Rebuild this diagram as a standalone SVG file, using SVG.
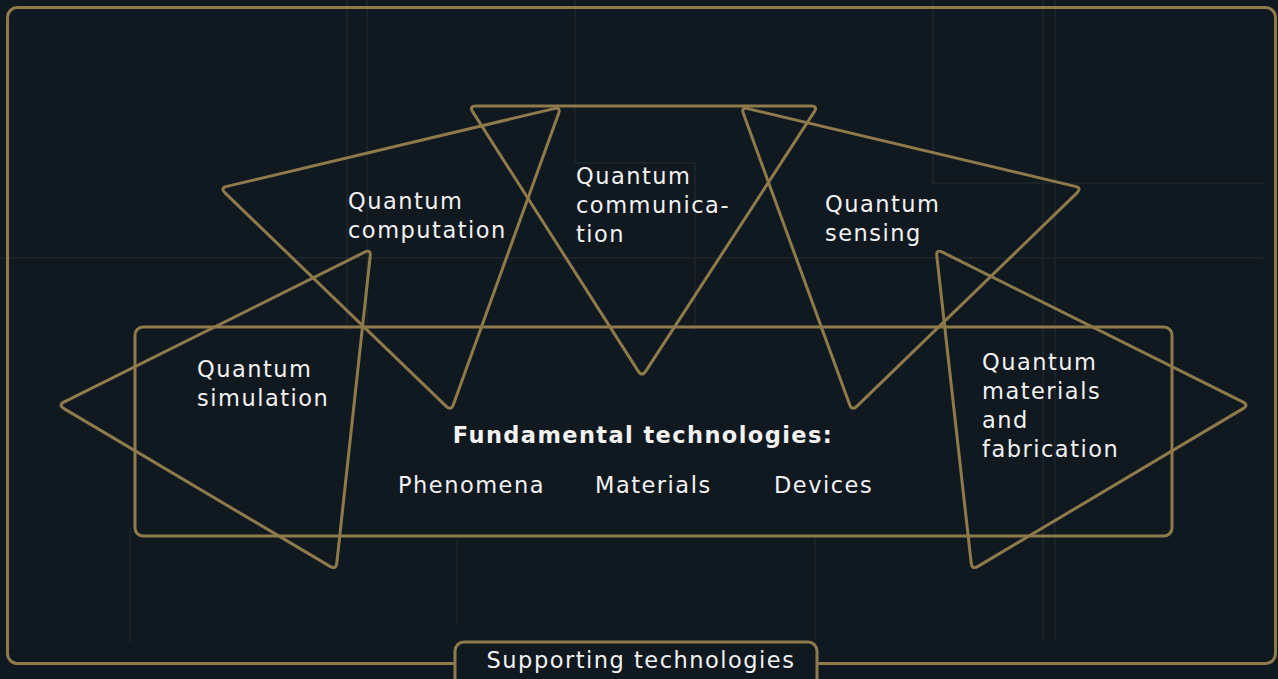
<svg xmlns="http://www.w3.org/2000/svg" width="1278" height="679" viewBox="0 0 1278 679">
<style>
.bg{fill:#111920}
.grid{stroke:#1b2328;stroke-width:2;fill:none}
.frame{fill:none;stroke:#8e7a4b;stroke-width:3;stroke-linejoin:round}
.t{font-family:"DejaVu Sans",sans-serif;font-size:22.5px;letter-spacing:1.5px;fill:#f2f2f2}
.b{font-weight:bold;letter-spacing:1.4px}
</style>
<rect class="bg" x="0" y="0" width="1278" height="679"/>
<g id="grid">
<path class="grid" d="M347,0V330 M367,0V330 M575,0V163H695V330 M0,258H1263 M933,0V183H1263 M1043,0V640 M1055,0V640 M130,527V642 M457,540V625 M815,537V640"/>
</g>
<g id="supporting-frame">
<rect class="frame" x="7.5" y="7.5" width="1268" height="656" rx="10"/>
</g>
<g id="fundamental">
<rect class="frame" x="135" y="327" width="1037" height="209" rx="8"/>
<text class="t b" x="643" y="443" text-anchor="middle">Fundamental technologies:</text>
<text class="t" x="398" y="493">Phenomena</text>
<text class="t" x="595" y="493">Materials</text>
<text class="t" x="774" y="493">Devices</text>
</g>
<g id="computation">
<path class="frame" d="M226.8,186.4 L554.2,108.6 Q561,107 558.6,113.6 L453.4,404.4 Q451,411 446,406.1 L225,192.9 Q220,188 226.8,186.4 Z"/>
<text class="t" x="348" y="209">Quantum</text>
<text class="t" x="348" y="238">computation</text>
</g>
<g id="communication">
<path class="frame" d="M476,106 L811,106 Q818,106 814.2,111.9 L645.8,371.1 Q642,377 638.2,371.1 L472.8,111.9 Q469,106 476,106 Z"/>
<text class="t" x="576" y="184">Quantum</text>
<text class="t" x="576" y="213">communica-</text>
<text class="t" x="576" y="242">tion</text>
</g>
<g id="sensing">
<path class="frame" d="M747.8,108.6 L1075.2,186.4 Q1082,188 1077,192.9 L857,406.1 Q852,411 849.6,404.4 L743.4,113.6 Q741,107 747.8,108.6 Z"/>
<text class="t" x="825" y="212">Quantum</text>
<text class="t" x="825" y="241">sensing</text>
</g>
<g id="simulation">
<path class="frame" d="M64.3,401.9 L364.7,252.1 Q371,249 370.2,256 L336.8,563 Q336,570 330,566.4 L64,408.6 Q58,405 64.3,401.9 Z"/>
<text class="t" x="197" y="377">Quantum</text>
<text class="t" x="197" y="406">simulation</text>
</g>
<g id="materials">
<path class="frame" d="M942.3,252.1 L1242.7,401.9 Q1249,405 1243,408.6 L978,566.4 Q972,570 971.2,563 L936.8,256 Q936,249 942.3,252.1 Z"/>
<text class="t" x="982" y="370">Quantum</text>
<text class="t" x="982" y="399">materials</text>
<text class="t" x="982" y="428">and</text>
<text class="t" x="982" y="457">fabrication</text>
</g>
<g id="supporting-label">
<rect class="frame" x="455" y="642" width="362" height="50" rx="9" style="fill:#111920"/>
<text class="t" x="641" y="668" text-anchor="middle">Supporting technologies</text>
</g>
</svg>
